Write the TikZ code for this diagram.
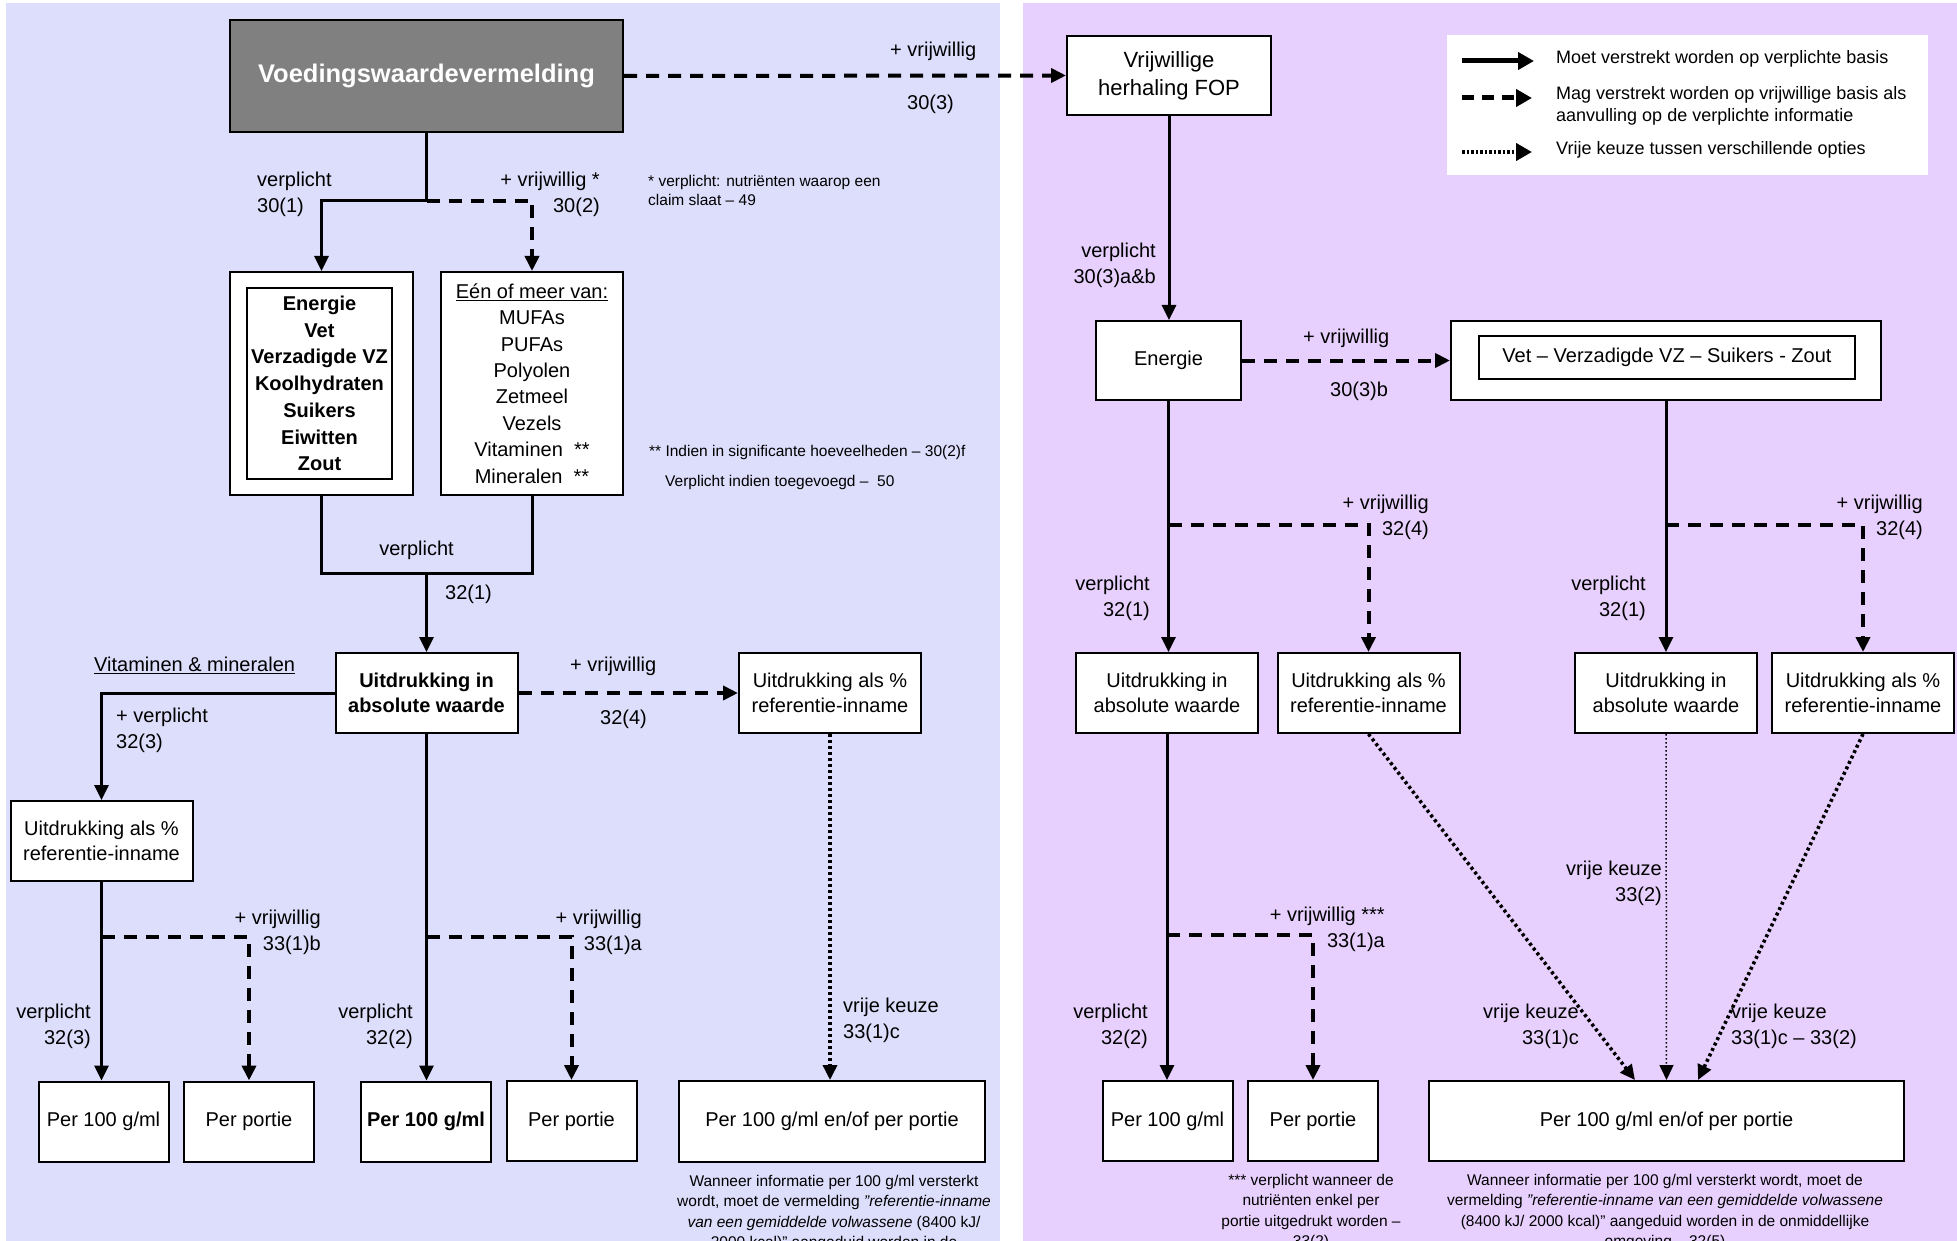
\documentclass[tikz,border=0pt]{standalone}
\usepackage{fontspec}
\setmainfont{Liberation Sans}
\usetikzlibrary{arrows.meta}

\definecolor{leftbg}{RGB}{221,221,252}
\definecolor{rightbg}{RGB}{231,208,253}
\definecolor{titlegray}{RGB}{128,128,128}

\begin{document}
\begin{tikzpicture}[x=1pt, y=-1pt, every node/.style={font=\fontsize{20}{26}\selectfont}, >={Triangle[length=15pt, width=14pt]},
	bx/.style 2 args={draw, line width=2pt, fill=white, align=center, inner sep=0pt, minimum width=#1pt, minimum height=#2pt},
	uit/.style={bx={182}{80}, font=\fontsize{20}{25}\selectfont}, per/.style={bx={130}{80}},
	lbl/.style={inner sep=0pt}, sm/.style={inner sep=0pt, align=center, font=\fontsize{15.5}{20.5}\selectfont},
	sol/.style={line width=3pt}, dsh/.style={line width=4pt, dash pattern=on 13pt off 9pt},
	dot/.style={line width=3.5pt, dash pattern=on 3pt off 3pt}, fdot/.style={line width=1.5pt, dash pattern=on 1.5pt off 2.5pt}]
	\useasboundingbox (0,0) rectangle (1957,1241);
	\clip (0,0) rectangle (1957,1241);
	\fill[leftbg] (6,3) rectangle (1000,1241);
	\fill[rightbg] (1023,3) rectangle (1957,1241);
	% left part
	\node[bx={393}{112}, fill=titlegray, text=white, font=\fontsize{25.5}{30}\selectfont\bfseries] (voed) at (426.5,76) {Voedingswaardevermelding};
	\node[bx={183}{223}] (nutr) at (321.5,383.5) {};
	\node[bx={145}{191}, font=\fontsize{20}{26.7}\selectfont\bfseries] (nutrin) at (319.5,383.5) {Energie\\Vet\\Verzadigde VZ\\Koolhydraten\\Suikers\\Eiwitten\\Zout};
	\node[bx={182}{223}, font=\fontsize{20}{26.4}\selectfont] (opt) at (532,383.5) {\underline{Eén of meer van:}\\MUFAs\\PUFAs\\Polyolen\\Zetmeel\\Vezels\\Vitaminen\ \ **\\Mineralen\ \ **};
	\node[uit, font=\fontsize{20}{25}\selectfont\bfseries] (abs1) at (426.5,693) {Uitdrukking in\\absolute waarde};
	\node[uit] (pct1) at (101.5,841) {Uitdrukking als \%\\referentie-inname};
	\node[uit] (pct2) at (830,693) {Uitdrukking als \%\\referentie-inname};
	\node[per] (p100a) at (103.5,1121.5) {Per 100 g/ml};
	\node[per] (porta) at (249,1121.5) {Per portie};
	\node[per, font=\fontsize{20}{26}\selectfont\bfseries] (p100b) at (426,1121.5) {Per 100 g/ml};
	\node[per] (portb) at (571.5,1121) {Per portie};
	\node[bx={306}{81}] (enof1) at (832,1121.5) {Per 100 g/ml en/of per portie};
	% right part
	\node[bx={204}{79}, font=\fontsize{22}{28}\selectfont] (fop) at (1169,75.5) {Vrijwillige\\herhaling FOP};
	\node[bx={145}{79}] (ener2) at (1168.5,360.5) {Energie};
	\node[bx={430}{79}] (vet) at (1666,360.5) {};
	\node[bx={376}{43}] (vetin) at (1667,357.5) {Vet -- Verzadigde VZ -- Suikers - Zout};
	\node[uit] (abs2) at (1167,693) {Uitdrukking in\\absolute waarde};
	\node[uit] (pct3) at (1368.5,693) {Uitdrukking als \%\\referentie-inname};
	\node[uit] (abs3) at (1666,693) {Uitdrukking in\\absolute waarde};
	\node[uit] (pct4) at (1863,693) {Uitdrukking als \%\\referentie-inname};
	\node[per] (p100c) at (1167.5,1121) {Per 100 g/ml};
	\node[per] (portc) at (1313,1121) {Per portie};
	\node[bx={475}{80}] (enof2) at (1666.5,1121) {Per 100 g/ml en/of per portie};
	% legend
	\node[fill=white, inner sep=0pt, minimum width=481pt, minimum height=140pt] (leg) at (1687.5,105) {};
	\node[lbl, anchor=mid west, font=\fontsize{18}{22}\selectfont] (lt1) at (1556,61) {Moet verstrekt worden op verplichte basis};
	\node[lbl, anchor=north west, align=left, font=\fontsize{18}{22}\selectfont] (lt2) at (1556,86) {Mag verstrekt worden op vrijwillige basis als\\aanvulling op de verplichte informatie};
	\node[lbl, anchor=mid west, font=\fontsize{18}{22}\selectfont] (lt3) at (1556,152) {Vrije keuze tussen verschillende opties};
	\coordinate (la1) at (1462,61);
	\coordinate (la2) at (1462,98);
	\coordinate (la2e) at (1532,98);
	\coordinate (la3) at (1462,152);
	\draw[line width=5pt, -{Triangle[length=16pt, width=17pt]}] (la1) -- ([xshift=-22pt]lt1.mid west);
	\draw[line width=5pt, dash pattern=on 12pt off 8pt, -{Triangle[length=16pt, width=17pt]}] (la2) -- (la2e);
	\draw[line width=4pt, dash pattern=on 2.5pt off 2pt, -{Triangle[length=16pt, width=17pt]}] (la3) -- ([xshift=-24pt]lt3.mid west);
	% connectors
	\coordinate (j1) at (426.5,201);
	\coordinate (j2) at (426.5,573);
	\draw[sol] (voed.south) -- (j1);
	\draw[sol, ->] (j1) -| (nutr.north);
	\draw[dsh, ->] (j1) -| (opt.north);
	\draw[dsh, ->] (voed.east) -- (fop.west);
	\draw[sol] (nutr.south) |- (j2) -| (opt.south);
	\draw[sol, ->] (j2) -- (abs1.north);
	\draw[sol, ->] (abs1.west) -| (pct1.north);
	\draw[dsh, ->] (abs1.east) -- (pct2.west);
	\draw[dot, ->] (pct2.south) -- (pct2.south |- enof1.north);
	\draw[sol, ->] (fop.south) -- (fop.south |- ener2.north);
	\draw[dsh, ->] (ener2.east) -- (vet.west);
	\foreach \a/\b/\c/\y in {pct1/p100a/porta/937, abs1/p100b/portb/937, abs2/p100c/portc/935, ener2/abs2/pct3/525, vet/abs3/pct4/525} {
		\coordinate (br\a) at (\a.south |- 0,\y);
		\draw[sol, ->] (\a.south) -- (\a.south |- \b.north);
		\draw[dsh, ->] (br\a) -| (\c.north);
	}
	\draw[dot, ->] (pct3.south) -- ([xshift=-31.5pt]enof2.north);
	\draw[fdot, ->] (abs3.south) -- (enof2.north);
	\draw[dot, ->] (pct4.south) -- ([xshift=31.5pt]enof2.north);
	% labels left
	\node[lbl, anchor=north west] (l1a) at (890,42) {+ vrijwillig};
	\node[lbl, anchor=north west] (l1b) at (907,95) {30(3)};
	\node[lbl, anchor=north west, align=left] (l2) at (257,172) {verplicht\\30(1)};
	\node[lbl, anchor=north east, align=right] (l3) at (600,172) {+ vrijwillig *\\30(2)};
	\node[sm, anchor=north west, align=left, font=\fontsize{15.5}{19}\selectfont] (l4) at (648,175) {* verplicht: nutriënten waarop een\\claim slaat -- 49};
	\node[sm, anchor=north west] (l5) at (649,445) {** Indien in significante hoeveelheden -- 30(2)f};
	\node[sm, anchor=north west] (l6) at (665,475) {Verplicht indien toegevoegd --\ \ 50};
	\node[lbl, anchor=north] (l7) at (416.5,541) {verplicht};
	\node[lbl, anchor=north west] (l8) at (445,585) {32(1)};
	\node[lbl, anchor=north west] (l9) at (94,657) {\underline{Vitaminen \& mineralen}};
	\node[lbl, anchor=north west, align=left] (l10) at (116,708) {+ verplicht\\32(3)};
	\node[lbl, anchor=north west] (l11a) at (570,657) {+ vrijwillig};
	\node[lbl, anchor=north west] (l11b) at (600,710) {32(4)};
	\node[lbl, anchor=north east, align=right] (l12) at (321,910) {+ vrijwillig\\33(1)b};
	\node[lbl, anchor=north east, align=right] (l13) at (91,1004) {verplicht\\32(3)};
	\node[lbl, anchor=north east, align=right] (l14) at (642,910) {+ vrijwillig\\33(1)a};
	\node[lbl, anchor=north east, align=right] (l15) at (413,1004) {verplicht\\32(2)};
	\node[lbl, anchor=north west, align=left] (l16) at (843,998) {vrije keuze\\33(1)c};
	\node[sm, anchor=north] (l17) at (834,1175) {Wanneer informatie per 100 g/ml versterkt\\wordt, moet de vermelding \textit{"referentie-inname}\\\textit{van een gemiddelde volwassene} (8400 kJ/\\2000 kcal)" aangeduid worden in de};
	% labels right
	\node[lbl, anchor=north east, align=right] (r1) at (1156,243) {verplicht\\30(3)a\&b};
	\node[lbl, anchor=north west] (r2a) at (1303,329) {+ vrijwillig};
	\node[lbl, anchor=north west] (r2b) at (1330,382) {30(3)b};
	\node[lbl, anchor=north east, align=right] (r3) at (1429,495) {+ vrijwillig\\32(4)};
	\node[lbl, anchor=north east, align=right] (r4) at (1150,576) {verplicht\\32(1)};
	\node[lbl, anchor=north east, align=right] (r5) at (1923,495) {+ vrijwillig\\32(4)};
	\node[lbl, anchor=north east, align=right] (r6) at (1646,576) {verplicht\\32(1)};
	\node[lbl, anchor=north east, align=right] (r7) at (1385,907) {+ vrijwillig ***\\33(1)a};
	\node[lbl, anchor=north east, align=right] (r8) at (1148,1004) {verplicht\\32(2)};
	\node[lbl, anchor=north east, align=right] (r9) at (1662,861) {vrije keuze\\33(2)};
	\node[lbl, anchor=north east, align=right] (r10) at (1579,1004) {vrije keuze\\33(1)c};
	\node[lbl, anchor=north west, align=left] (r11) at (1731,1004) {vrije keuze\\33(1)c -- 33(2)};
	\node[sm, anchor=north] (r12) at (1311,1174) {*** verplicht wanneer de\\nutriënten enkel per\\portie uitgedrukt worden --\\33(2)};
	\node[sm, anchor=north] (r13) at (1665,1174) {Wanneer informatie per 100 g/ml versterkt wordt, moet de\\vermelding \textit{"referentie-inname van een gemiddelde volwassene}\\(8400 kJ/ 2000 kcal)" aangeduid worden in de onmiddellijke\\omgeving -- 32(5)};
\end{tikzpicture}
\end{document}
